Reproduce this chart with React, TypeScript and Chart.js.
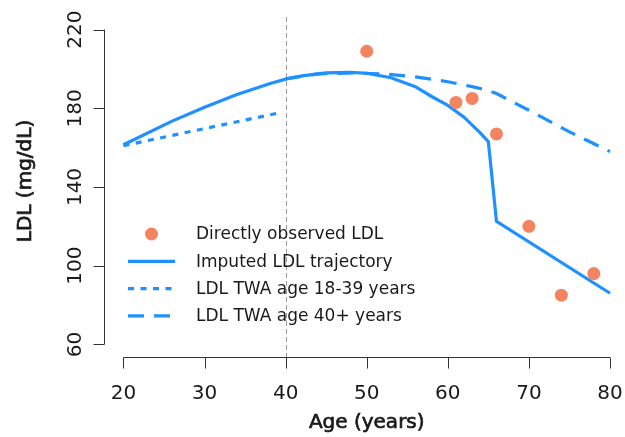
import { useEffect, useRef } from "react";
import { Chart, registerables } from "chart.js";

Chart.register(...registerables);

// Axis ticks
const xTicks = [20, 30, 40, 50, 60, 70, 80];
const yTicks = [60, 100, 140, 180, 220];

// Directly observed LDL measurements
const observedAge = [50, 61, 63, 66, 70, 74, 78];
const observedLDL = [209, 183, 185, 167, 120, 85, 96];

// Imputed LDL trajectory
const imputedAge = [20, 26, 30, 34, 38, 40, 42, 45, 48, 50, 53, 56, 58, 60, 62, 64, 65, 66, 80];
const imputedLDL = [161.5, 173.5, 180.5, 187, 192.5, 194.8, 196.5, 198, 198.3, 197.8, 195.5, 191, 186, 181.5, 175.5, 167.5, 163, 122.5, 86];

// Time-weighted average, age 18-39
const earlyTwaAge = [20, 39];
const earlyTwaLDL = [161, 177.5];

// Time-weighted average, age 40+
const lateTwaAge = [40, 44, 48, 52, 56, 60, 63, 65, 66, 70, 75, 80];
const lateTwaLDL = [195, 197.5, 198, 197.5, 196, 193.5, 191, 189, 187.5, 179, 168, 158];

const ageCutoff = 40;

const xTitle = "Age (years)";
const yTitle = "LDL (mg/dL)";

const BLUE = "#1E90FF";
const SALMON = "#F4845F";
const INK = "#1a1a1a";
const AXIS = "#333333";

const toPoints = (xs: number[], ys: number[]) => xs.map((x, i) => ({ x, y: ys[i] }));

// Draws text slightly heavier than the regular face
const heavyText = (ctx: CanvasRenderingContext2D, text: string, x: number, y: number) => {
  ctx.lineWidth = 0.7;
  ctx.strokeStyle = ctx.fillStyle as string;
  ctx.strokeText(text, x, y);
  ctx.fillText(text, x, y);
};

const rAxesPlugin = {
  id: "rAxes",
  beforeDatasetsDraw(chart: any) {
    const { ctx, chartArea, scales } = chart;
    const px = scales.x.getPixelForValue(ageCutoff);
    ctx.save();
    ctx.strokeStyle = "#9a9a9a";
    ctx.lineWidth = 1;
    ctx.setLineDash([5, 3]);
    ctx.beginPath();
    ctx.moveTo(Math.round(px) + 0.5, chartArea.top);
    ctx.lineTo(Math.round(px) + 0.5, chartArea.bottom);
    ctx.stroke();
    ctx.restore();
  },
  afterDraw(chart: any) {
    const { ctx, chartArea, scales } = chart;
    const xs = scales.x;
    const ys = scales.y;
    const tick = 11;
    ctx.save();
    ctx.strokeStyle = AXIS;
    ctx.lineWidth = 1;
    ctx.setLineDash([]);

    // y axis
    const ax = Math.round(chartArea.left) + 0.5;
    const yTop = ys.getPixelForValue(yTicks[yTicks.length - 1]);
    const yBot = ys.getPixelForValue(yTicks[0]);
    ctx.beginPath();
    ctx.moveTo(ax, yTop);
    ctx.lineTo(ax, yBot);
    yTicks.forEach((v) => {
      const p = Math.round(ys.getPixelForValue(v)) + 0.5;
      ctx.moveTo(ax, p);
      ctx.lineTo(ax - tick, p);
    });
    ctx.stroke();

    // x axis
    const ay = Math.round(chartArea.bottom) + 0.5;
    const xL = xs.getPixelForValue(xTicks[0]);
    const xR = xs.getPixelForValue(xTicks[xTicks.length - 1]);
    ctx.beginPath();
    ctx.moveTo(xL, ay);
    ctx.lineTo(xR, ay);
    xTicks.forEach((v) => {
      const p = Math.round(xs.getPixelForValue(v)) + 0.5;
      ctx.moveTo(p, ay);
      ctx.lineTo(p, ay + tick);
    });
    ctx.stroke();

    // tick labels
    ctx.fillStyle = INK;
    ctx.font = '20px "DejaVu Sans"';
    ctx.textAlign = "center";
    ctx.textBaseline = "alphabetic";
    xTicks.forEach((v) => {
      ctx.fillText(String(v), xs.getPixelForValue(v), ay + 41.5);
    });
    yTicks.forEach((v) => {
      ctx.save();
      ctx.translate(ax - 24, ys.getPixelForValue(v));
      ctx.rotate(-Math.PI / 2);
      ctx.fillText(String(v), 0, 0);
      ctx.restore();
    });

    // axis titles
    ctx.font = '20px "DejaVu Sans"';
    heavyText(ctx, xTitle, (xL + xR) / 2, 428);
    ctx.save();
    ctx.translate(31, (yTop + yBot) / 2 - 6);
    ctx.rotate(-Math.PI / 2);
    heavyText(ctx, yTitle, 0, 0);
    ctx.restore();

    // legend
    const rows = chart.data.datasets;
    const lx0 = 128;
    const lx1 = 175;
    const textX = 196;
    const rowY0 = 234;
    const rowGap = 27.3;
    ctx.font = '17px "DejaVu Sans"';
    ctx.textAlign = "left";
    ctx.textBaseline = "middle";
    rows.forEach((ds: any, i: number) => {
      const cy = rowY0 + i * rowGap;
      if (ds.showLine === false) {
        ctx.fillStyle = ds.backgroundColor;
        ctx.beginPath();
        ctx.arc((lx0 + lx1) / 2, cy, ds.pointRadius, 0, Math.PI * 2);
        ctx.fill();
      } else {
        ctx.strokeStyle = ds.borderColor;
        ctx.lineWidth = ds.borderWidth;
        ctx.setLineDash(ds.borderDash || []);
        ctx.lineCap = "butt";
        ctx.beginPath();
        ctx.moveTo(lx0, cy);
        ctx.lineTo(lx1, cy);
        ctx.stroke();
        ctx.setLineDash([]);
      }
      ctx.fillStyle = INK;
      ctx.fillText(ds.label, textX, cy + 1);
    });
    ctx.restore();
  },
};

export default function App() {
  const ref = useRef<HTMLCanvasElement>(null);

  useEffect(() => {
    const canvas = ref.current;
    if (!canvas) return;
    const chart = new Chart(canvas, {
      type: "line",
      data: {
        datasets: [
          {
            type: "scatter",
            label: "Directly observed LDL",
            data: toPoints(observedAge, observedLDL),
            showLine: false,
            backgroundColor: SALMON,
            borderColor: SALMON,
            pointRadius: 6.5,
            pointBorderWidth: 0,
            order: 0,
          } as any,
          {
            label: "Imputed LDL trajectory",
            data: toPoints(imputedAge, imputedLDL),
            borderColor: BLUE,
            borderWidth: 3.2,
            pointRadius: 0,
            tension: 0,
            fill: false,
            order: 3,
          },
          {
            label: "LDL TWA age 18-39 years",
            data: toPoints(earlyTwaAge, earlyTwaLDL),
            borderColor: BLUE,
            borderWidth: 3.2,
            borderDash: [6, 6.5],
            pointRadius: 0,
            fill: false,
            order: 2,
          },
          {
            label: "LDL TWA age 40+ years",
            data: toPoints(lateTwaAge, lateTwaLDL),
            borderColor: BLUE,
            borderWidth: 3.2,
            borderDash: [16, 10],
            pointRadius: 0,
            fill: false,
            order: 1,
          },
        ],
      },
      options: {
        responsive: false,
        animation: false,
        devicePixelRatio: 1,
        layout: { autoPadding: false, padding: { left: 104, right: 0, top: 17, bottom: 80 } },
        scales: {
          x: { type: "linear", min: 17.6, max: 81.85, display: false },
          y: { type: "linear", min: 53.6, max: 226.4, display: false },
        },
        plugins: {
          legend: { display: false },
          tooltip: { enabled: false },
        },
      },
      plugins: [rAxesPlugin],
    });
    return () => chart.destroy();
  }, []);

  return (
    <div style={{ position: "fixed", left: 0, top: 0, width: 625, height: 437, background: "#fff" }}>
      <canvas ref={ref} width={625} height={437} style={{ display: "block" }} />
    </div>
  );
}
